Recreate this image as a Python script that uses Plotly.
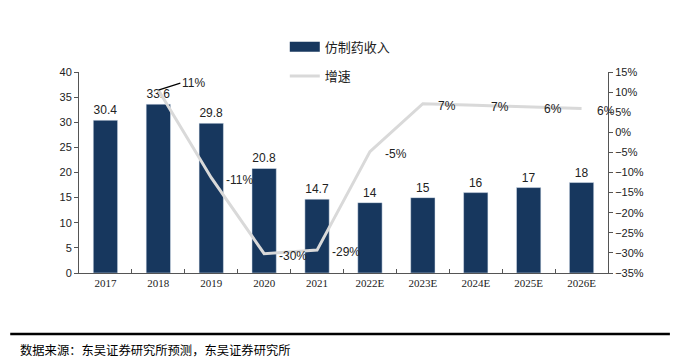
import plotly.graph_objects as go

years = ["2017", "2018", "2019", "2020", "2021", "2022E", "2023E", "2024E", "2025E", "2026E"]
revenue = [30.4, 33.6, 29.8, 20.8, 14.7, 14.0, 15.0, 16.0, 17.0, 18.0]
revenue_labels = ["30.4", "33.6", "29.8", "20.8", "14.7", "14", "15", "16", "17", "18"]
growth_years = ["2018", "2019", "2020", "2021", "2022E", "2023E", "2024E", "2025E", "2026E"]
growth = [0.105, -0.113, -0.302, -0.293, -0.048, 0.071, 0.067, 0.0625, 0.059]
growth_labels = ["11%", "-11%", "-30%", "-29%", "-5%", "7%", "7%", "6%", "6%"]

BAR_COLOR = "#17375E"
LINE_COLOR = "#D9D9D9"
LABEL_FONT = dict(family="Liberation Sans", size=12, color="#222")

fig = go.Figure()
fig.add_trace(go.Bar(
    x=years, y=revenue, name="仿制药收入", marker_color=BAR_COLOR,
    width=0.46, text=revenue_labels, textposition="outside", cliponaxis=False,
    textfont=LABEL_FONT, showlegend=False,
))
fig.add_trace(go.Scatter(
    x=growth_years, y=growth, name="增速", mode="lines", yaxis="y2",
    line=dict(color=LINE_COLOR, width=3), cliponaxis=False,
    legend="legend2",
))
# legend entry for the bars drawn as a wide block (no data drawn)
fig.add_trace(go.Scatter(
    x=[None], y=[None], name="仿制药收入", mode="lines",
    line=dict(color=BAR_COLOR, width=13), legend="legend",
))

for i, (gx, gy, gl) in enumerate(zip(growth_years, growth, growth_labels)):
    if i == 0:
        fig.add_annotation(x=years.index(gx), y=gy, yref="y2", text=gl, showarrow=True,
                           arrowhead=0, arrowwidth=1.2, arrowcolor="#000", ax=22, ay=-7,
                           xanchor="left", font=LABEL_FONT)
    else:
        fig.add_annotation(x=years.index(gx), y=gy, yref="y2", text=gl, showarrow=False,
                           xanchor="left", xshift=13, yshift=-2, font=LABEL_FONT)

fig.add_shape(type="line", xref="paper", yref="paper", x0=-0.130, x1=1.117,
              y0=-0.303, y1=-0.303, line=dict(color="#000", width=2.5))
fig.add_annotation(xref="paper", yref="paper", x=-0.115, y=-0.385, xanchor="left",
                   yanchor="middle", showarrow=False,
                   text="数据来源：东吴证券研究所预测，东吴证券研究所",
                   font=dict(family="Noto Sans CJK SC", size=12.3, color="#000"))

fig.update_layout(
    width=692, height=354, margin=dict(l=71, r=92, t=64, b=89, autoexpand=False),
    paper_bgcolor="white", plot_bgcolor="white", bargap=0.5,
    xaxis=dict(type="category", range=[-0.5, len(years) - 0.5], showline=True,
               linecolor="#555", linewidth=1,
               ticks="inside", ticklen=4, tickcolor="#555", tickson="boundaries",
               tickfont=dict(family="Liberation Serif", size=11, color="#222")),
    yaxis=dict(range=[0, 40], dtick=5, showgrid=False, showline=True, linecolor="#555",
               ticks="outside", ticklen=4, tickcolor="#555", zeroline=False,
               tickfont=dict(family="Liberation Sans", size=11, color="#222")),
    yaxis2=dict(range=[-0.35, 0.15], dtick=0.05, tickformat=".0%", overlaying="y",
                side="right", showgrid=False, showline=True, linecolor="#555",
                ticks="outside", ticklen=4, tickcolor="#555", zeroline=False,
                tickfont=dict(family="Liberation Sans", size=11, color="#222")),
    legend=dict(x=0.389, y=1.20, xanchor="left", yanchor="top", bgcolor="rgba(0,0,0,0)",
                font=dict(family="Noto Sans CJK SC", size=13, color="#222")),
    legend2=dict(x=0.389, y=1.055, xanchor="left", yanchor="top", bgcolor="rgba(0,0,0,0)",
                 font=dict(family="Noto Sans CJK SC", size=13, color="#222")),
    showlegend=True,
)

fig.write_html("out.html")
